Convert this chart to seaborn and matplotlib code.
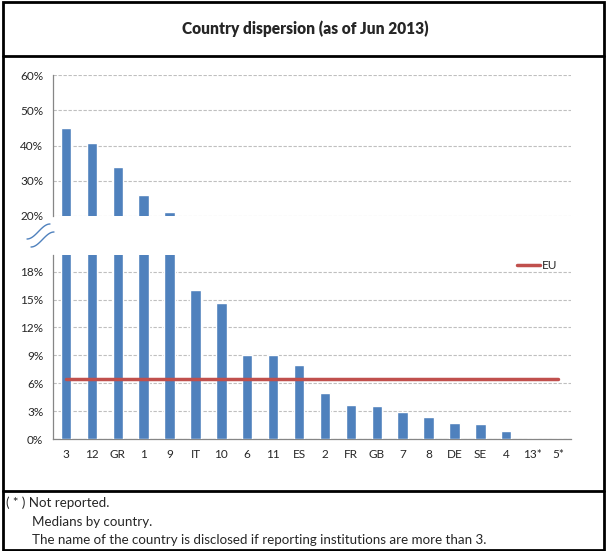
"""
Country dispersion chart with a broken y axis.
"""
import matplotlib
matplotlib.use('Agg')  # Non-interactive backend
import matplotlib.pyplot as plt
from matplotlib.lines import Line2D
from matplotlib.ticker import FuncFormatter
import numpy as np
import pandas as pd
import seaborn as sns

# Data (medians by country, in %)
countries = ['3', '12', 'GR', '1', '9', 'IT', '10', '6', '11', 'ES',
             '2', 'FR', 'GB', '7', '8', 'DE', 'SE', '4', '13*', '5*']
dispersion = [45.0, 40.7, 33.8, 26.0, 21.1, 16.0, 14.6, 9.05, 9.05, 8.0,
              4.9, 3.66, 3.56, 2.95, 2.37, 1.76, 1.62, 0.86, 0.0, 0.0]
eu_median = 6.45

upper_ticks = [20, 30, 40, 50, 60]
lower_ticks = [0, 3, 6, 9, 12, 15, 18]
title = 'Country dispersion (as of Jun 2013)'
notes = ['( * ) Not reported.',
         'Medians by country.',
         'The name of the country is disclosed if reporting institutions are more than 3.']

# Style
sns.set_style("white")
plt.rcParams['font.family'] = ['Lato', 'DejaVu Sans']

BLUE = '#4F81BD'
RED = '#C0504D'
GRAY = '#868686'
GRID = '#BFBFBF'

W, H = 606, 551


def fx(x):
    return x / W


def fy(y):
    return 1 - y / H


df = pd.DataFrame({'country': countries, 'value': dispersion})

fig = plt.figure(figsize=(W / 100, H / 100), dpi=100)

ax_top = fig.add_axes([fx(53), fy(216), (571 - 53) / W, (216 - 75) / H])
ax_bot = fig.add_axes([fx(53), fy(439), (571 - 53) / W, (439 - 255) / H])

pct = FuncFormatter(lambda v, p: f'{v:.0f}%')

for ax in (ax_top, ax_bot):
    sns.barplot(data=df, x='country', y='value', color=BLUE, saturation=1,
                width=0.4, ax=ax, zorder=3)
    ax.set_xlim(-0.5, len(countries) - 0.5)
    ax.set_xlabel('')
    ax.set_ylabel('')
    ax.yaxis.set_major_formatter(pct)
    ax.grid(axis='y', linestyle=(0, (3, 1.5)), color=GRID, linewidth=0.8, zorder=0)
    ax.grid(axis='x', visible=False)
    for s in ('top', 'right'):
        ax.spines[s].set_visible(False)
    ax.spines['left'].set_color(GRAY)
    ax.spines['left'].set_linewidth(0.9)
    ax.tick_params(axis='y', length=4, width=0.8, color=GRAY, labelsize=8.5, pad=3)

# Upper part
ax_top.set_ylim(upper_ticks[0], upper_ticks[-1])
ax_top.set_yticks(upper_ticks)
ax_top.spines['bottom'].set_visible(False)
ax_top.set_xticks([])

# Lower part
ax_bot.set_ylim(0, 19.8)
ax_bot.set_yticks(lower_ticks)
ax_bot.spines['bottom'].set_color(GRAY)
ax_bot.spines['bottom'].set_linewidth(0.9)
ax_bot.set_xticks(np.arange(len(countries) + 1) - 0.5, minor=True)
ax_bot.tick_params(axis='x', which='major', length=0, labelsize=8.5, pad=7)
ax_bot.tick_params(axis='x', which='minor', length=4, width=0.8, color=GRAY)

idx = np.arange(len(countries))
ax_bot.plot(idx, np.full(len(countries), eu_median), color=RED, linewidth=2.5,
            label='EU', zorder=4)
ax_bot.legend(loc='upper right', bbox_to_anchor=(0.983, 1.0), frameon=False,
              handlelength=2.0, handletextpad=0.15, borderaxespad=0, fontsize=8.5)

# Axis break marks
t = np.linspace(0, 1, 60)
s = 0.5 - 0.5 * np.cos(np.pi * t)
for x0, y0 in ((27, 239), (31, 247)):
    xs = [fx(x0 + 23 * v) for v in t]
    ys = [fy(y0 - 15 * v) for v in s]
    fig.add_artist(Line2D(xs, ys, transform=fig.transFigure, color=BLUE,
                          linewidth=1.0))

# Frame, title, notes
fig.add_artist(plt.Rectangle((fx(3), fy(550)), fx(604) - fx(3), fy(2) - fy(550),
                             transform=fig.transFigure, fill=False,
                             edgecolor='black', linewidth=2))
for yy in (56, 491):
    fig.add_artist(Line2D([fx(3), fx(604)], [fy(yy), fy(yy)],
                          transform=fig.transFigure, color='black', linewidth=2))

fig.text(fx(305), fy(29), title, ha='center', va='center',
         fontsize=11.2, fontweight='heavy')

fig.text(fx(6), fy(503), notes[0], ha='left', va='center', fontsize=9.6)
fig.text(fx(32), fy(522), notes[1], ha='left', va='center', fontsize=9.6)
fig.text(fx(32), fy(540), notes[2], ha='left', va='center', fontsize=9.6)

plt.savefig('out.png', dpi=100)
plt.close()
